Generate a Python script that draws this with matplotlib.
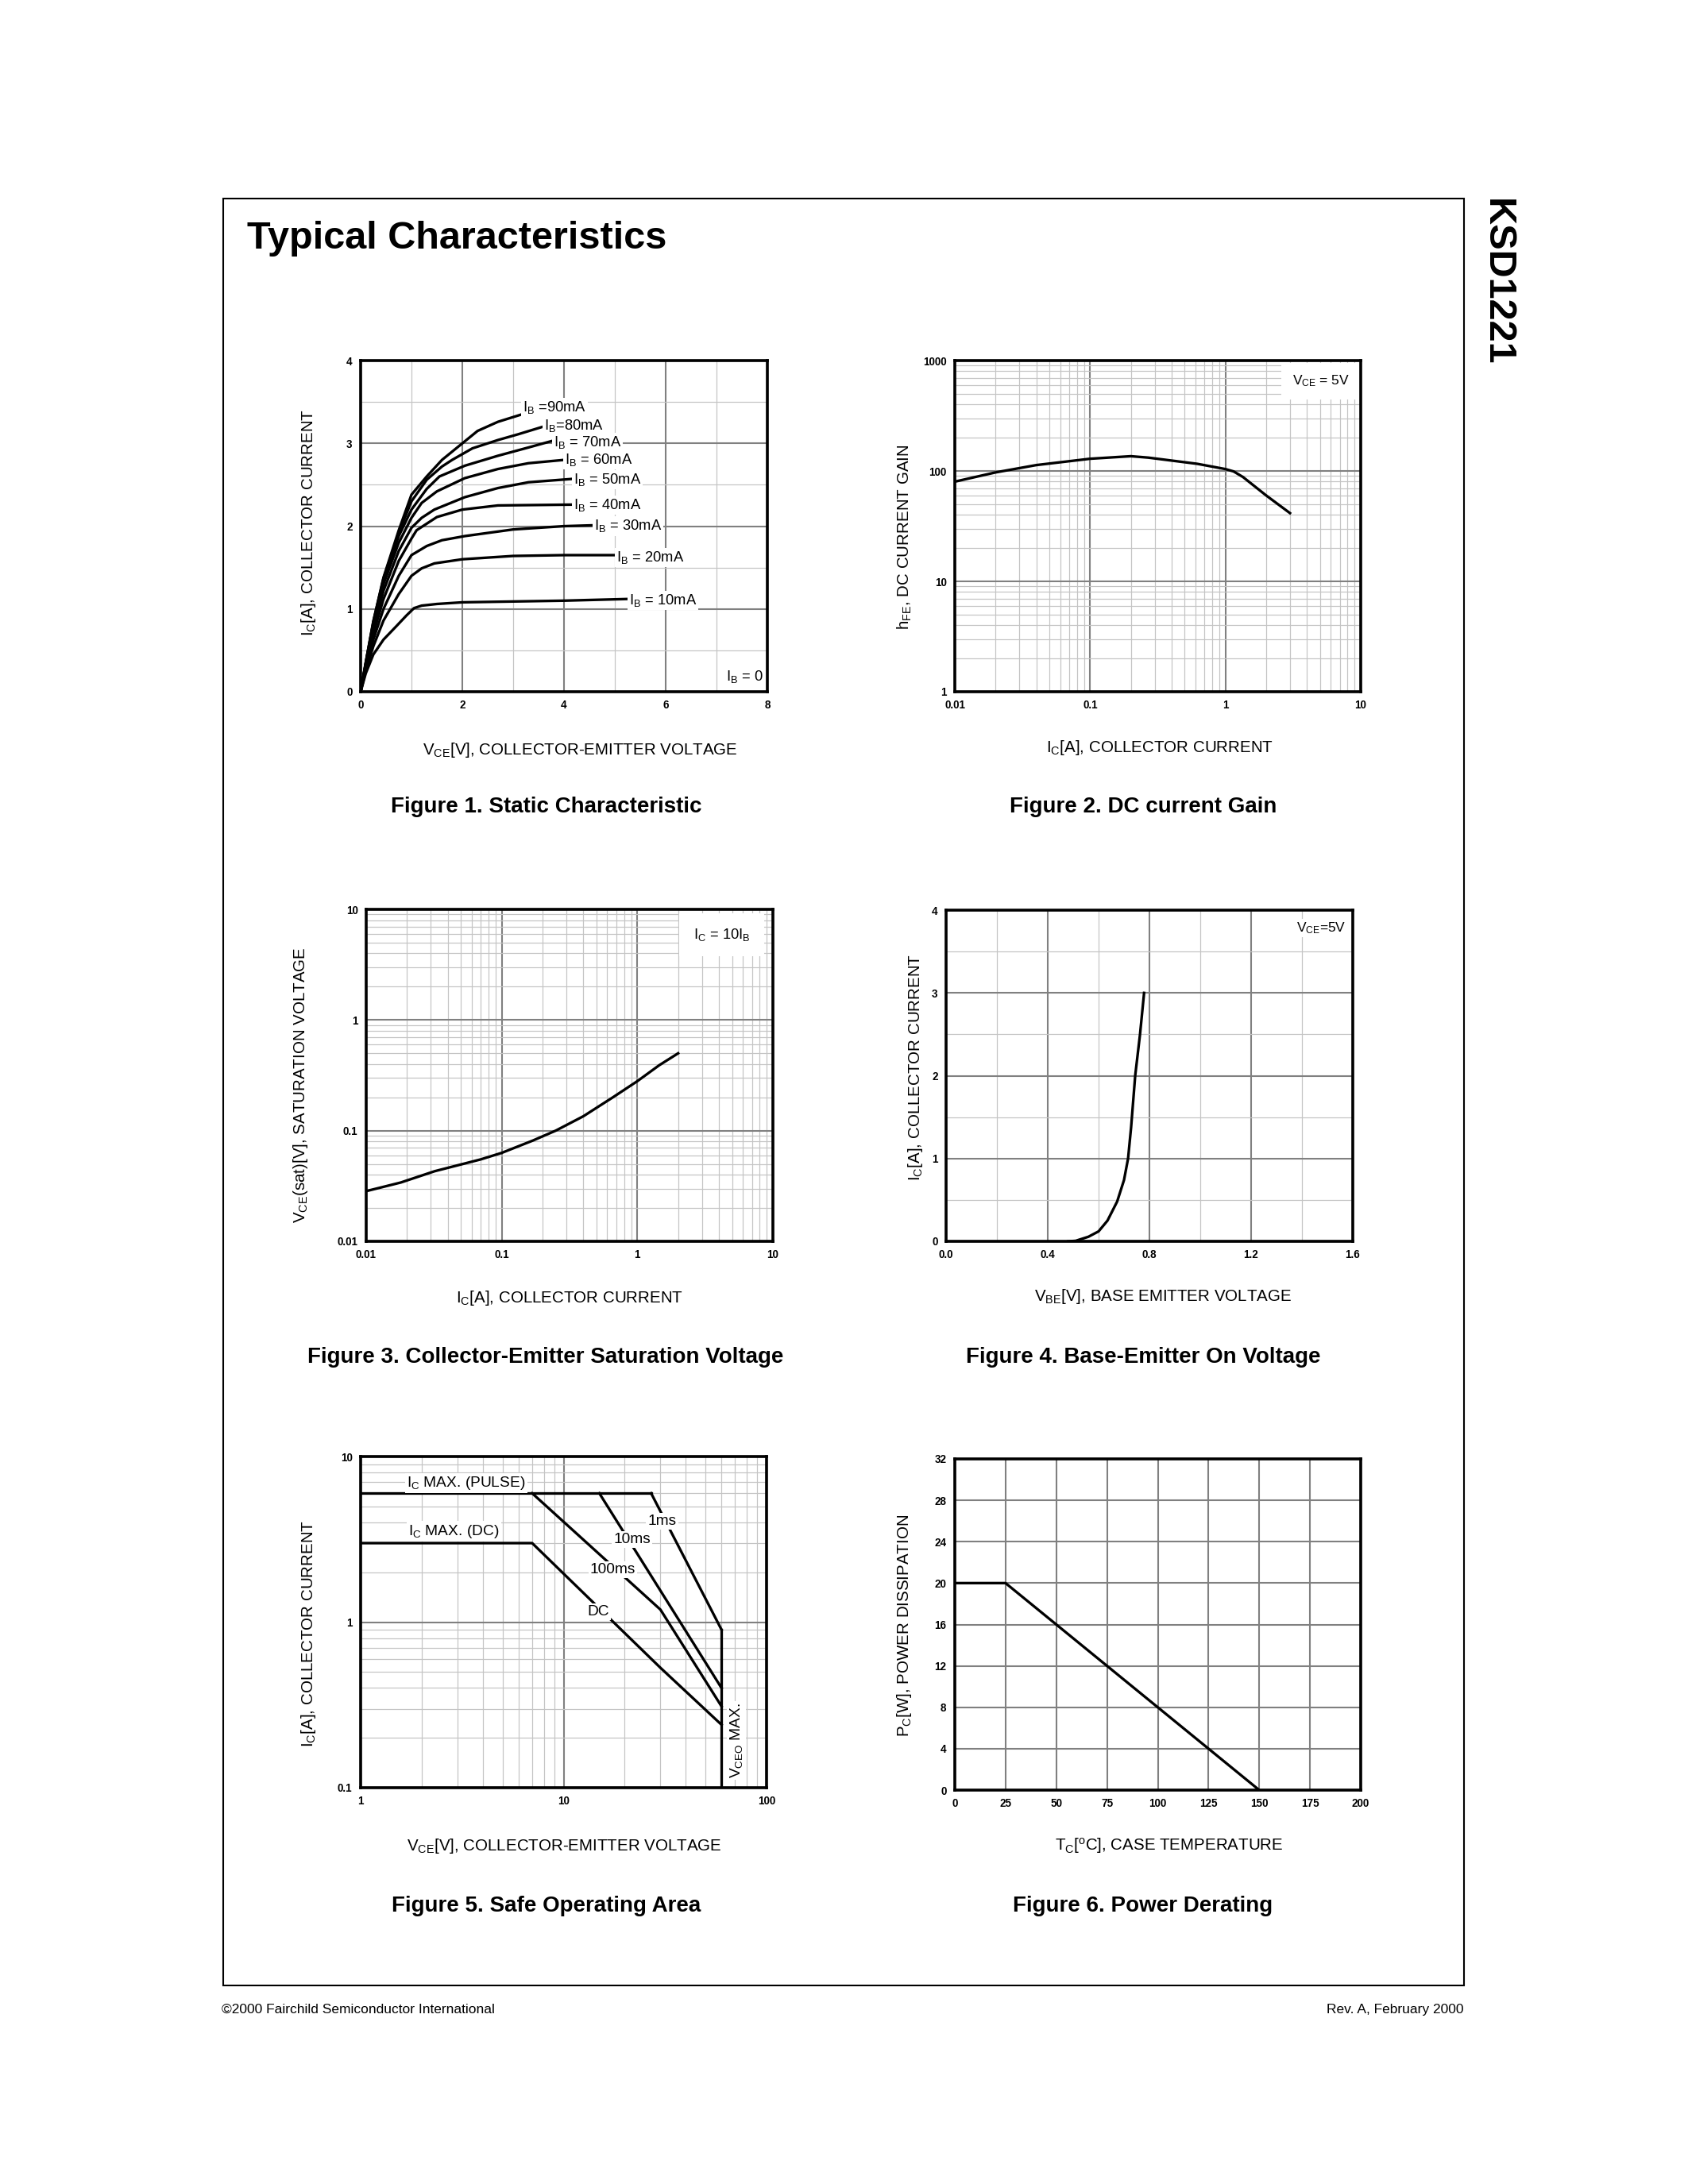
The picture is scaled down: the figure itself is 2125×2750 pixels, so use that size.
"""
KSD1221 typical characteristics page (datasheet figures 1-6)
"""
import numpy as np
import matplotlib
matplotlib.use('Agg')
import matplotlib.pyplot as plt
from matplotlib.ticker import LogLocator, NullFormatter
from matplotlib.patches import Rectangle

# ---- Figure 1: static characteristic (VCE [V] vs IC [A]) per base current
v_90 = [0, 0.1, 0.25, 0.45, 0.75, 1.0, 1.3, 1.6, 2.0, 2.3, 2.7, 3.17]
i_90 = [0, 0.35, 0.85, 1.38, 1.95, 2.38, 2.6, 2.8, 3.0, 3.15, 3.26, 3.35]
v_80 = [0, 0.1, 0.25, 0.45, 0.75, 1.0, 1.3, 1.6, 1.8, 2.2, 2.7, 3.1, 3.58]
i_80 = [0, 0.35, 0.85, 1.37, 1.92, 2.3, 2.56, 2.72, 2.8, 2.94, 3.04, 3.11, 3.2]
v_70 = [0, 0.1, 0.25, 0.45, 0.75, 1.0, 1.3, 1.55, 2.05, 2.7, 3.3, 3.77]
i_70 = [0, 0.34, 0.83, 1.35, 1.88, 2.2, 2.45, 2.6, 2.73, 2.85, 2.95, 3.03]
v_60 = [0, 0.1, 0.25, 0.45, 0.75, 1.0, 1.2, 1.5, 2.05, 2.7, 3.3, 4.0]
i_60 = [0, 0.33, 0.8, 1.3, 1.8, 2.1, 2.28, 2.42, 2.58, 2.69, 2.76, 2.8]
v_50 = [0, 0.1, 0.25, 0.45, 0.75, 1.0, 1.2, 1.45, 2.05, 2.7, 3.3, 4.15]
i_50 = [0, 0.32, 0.76, 1.22, 1.7, 1.98, 2.1, 2.2, 2.35, 2.46, 2.53, 2.57]
v_40 = [0, 0.1, 0.25, 0.45, 0.75, 1.0, 1.1, 1.5, 2.0, 2.7, 4.15]
i_40 = [0, 0.3, 0.7, 1.12, 1.58, 1.85, 1.95, 2.11, 2.2, 2.25, 2.26]
v_30 = [0, 0.1, 0.25, 0.45, 0.75, 1.0, 1.3, 1.6, 2.05, 3.0, 4.0, 4.55]
i_30 = [0, 0.28, 0.63, 1.0, 1.4, 1.65, 1.76, 1.83, 1.88, 1.96, 2.0, 2.01]
v_20 = [0, 0.1, 0.25, 0.45, 0.75, 1.0, 1.2, 1.45, 2.0, 3.0, 4.0, 4.98]
i_20 = [0, 0.25, 0.55, 0.86, 1.18, 1.4, 1.49, 1.55, 1.6, 1.64, 1.65, 1.65]
v_10 = [0, 0.1, 0.25, 0.45, 0.7, 0.9, 1.05, 1.2, 1.5, 2.0, 3.0, 4.0, 5.24]
i_10 = [0, 0.22, 0.45, 0.63, 0.79, 0.92, 1.01, 1.04, 1.06, 1.08, 1.09, 1.1, 1.12]
ib_labels = ['90mA', '80mA', '70mA', '60mA', '50mA', '40mA', '30mA', '20mA', '10mA']
ib_label_x = [3.19, 3.61, 3.8, 4.01, 4.19, 4.19, 4.59, 5.03, 5.28]
ib_label_y = [3.43, 3.21, 3.01, 2.8, 2.56, 2.25, 2.0, 1.62, 1.1]

# ---- Figure 2: DC current gain
ic_gain = [0.01, 0.02, 0.04, 0.1, 0.2, 0.27, 0.62, 1.0, 1.15, 1.35, 2.0, 3.0]
hfe = [80, 97, 113, 129, 136, 132, 116, 104, 99, 88, 60, 41.5]

# ---- Figure 3: collector-emitter saturation voltage
ic_sat = [0.01, 0.018, 0.032, 0.07, 0.1, 0.17, 0.25, 0.4, 0.66, 1.0, 1.45, 2.0]
vce_sat = [0.0284, 0.034, 0.043, 0.055, 0.063, 0.0815, 0.1, 0.135, 0.2, 0.28, 0.39, 0.5]

# ---- Figure 4: base-emitter on voltage
vbe_on = [0.48, 0.51, 0.56, 0.6, 0.635, 0.673, 0.7, 0.716, 0.728, 0.744, 0.763, 0.779]
ic_on = [0, 0.006, 0.055, 0.12, 0.25, 0.48, 0.74, 1.0, 1.38, 2.0, 2.5, 3.0]

# ---- Figure 5: safe operating area
pulse_v, pulse_i = [1, 27], [6, 6]
dc_v, dc_i = [1, 7, 30, 60], [3, 3, 0.53, 0.24]
ms100_v, ms100_i = [7, 30, 60], [6, 1.19, 0.31]
ms10_v, ms10_i = [15, 60], [6, 0.4]
ms1_v, ms1_i = [27, 60], [6, 0.9]
vceo_v, vceo_i = [60, 60], [0.9, 0.1]

# ---- Figure 6: power derating
tc = [0, 25, 150]
pc = [20, 20, 0]

W, H = 2125, 2750
MAJ = '#808080'
MIN = '#c4c4c4'
LW = 0.95
TICK_FS = 3.9
LABEL_FS = 5.9
CAP_FS = 8

plt.rcParams['font.family'] = ['Liberation Sans', 'DejaVu Sans']
plt.rcParams['mathtext.default'] = 'regular'

fig = plt.figure(figsize=(8.5, 11), dpi=250)


def make_axes(x0, y0, x1, y1):
    ax = fig.add_axes([x0 / W, 1 - y1 / H, (x1 - x0) / W, (y1 - y0) / H])
    for s in ax.spines.values():
        s.set_linewidth(1.05)
        s.set_zorder(6)
    ax.tick_params(which='both', length=0, pad=3)
    ax.set_axisbelow(True)
    return ax


def grid(ax):
    ax.grid(which='major', color=MAJ, linewidth=0.6)
    ax.grid(which='minor', color=MIN, linewidth=0.35)


def log_axis(axis, ticks, labels):
    axis.set_ticks(ticks, labels, fontsize=TICK_FS, fontweight='bold')
    axis.set_minor_locator(LogLocator(base=10, subs=np.arange(2, 10)))
    axis.set_minor_formatter(NullFormatter())


def labels(xtxt, xpos, ytxt, ypos):
    fig.text(xpos[0] / W, 1 - xpos[1] / H, xtxt, ha='center', va='center', fontsize=LABEL_FS)
    fig.text(ypos[0] / W, 1 - ypos[1] / H, ytxt, ha='center', va='center',
             fontsize=LABEL_FS, rotation=90)


def caption(txt, x, y):
    fig.text(x / W, 1 - y / H, txt, ha='center', va='center', fontsize=CAP_FS,
             fontweight='bold')


white = dict(facecolor='white', edgecolor='none', pad=0.6)

# Figure 1
ax1 = make_axes(454, 454, 966, 871)
curves = [(v_90, i_90), (v_80, i_80), (v_70, i_70), (v_60, i_60), (v_50, i_50),
          (v_40, i_40), (v_30, i_30), (v_20, i_20), (v_10, i_10)]
for v, i in curves:
    ax1.plot(v, i, color='black', linewidth=LW, zorder=3)
for lab, lx, ly in zip(ib_labels, ib_label_x, ib_label_y):
    sep = ' =' if lab == '90mA' else ('=' if lab == '80mA' else ' = ')
    ax1.text(lx, ly, '$I_B$' + sep + lab, fontsize=5.3, ha='left', va='center',
             bbox=white, zorder=4)
ax1.text(7.92, 0.18, '$I_B$ = 0', fontsize=5.3, ha='right', va='center', bbox=white, zorder=4)
ax1.set_xlim(0, 8)
ax1.set_ylim(0, 4)
ax1.set_xticks([0, 2, 4, 6, 8], ['0', '2', '4', '6', '8'], fontsize=TICK_FS, fontweight='bold')
ax1.set_xticks([1, 3, 5, 7], minor=True)
ax1.set_yticks([0, 1, 2, 3, 4], ['0', '1', '2', '3', '4'], fontsize=TICK_FS, fontweight='bold')
ax1.set_yticks([0.5, 1.5, 2.5, 3.5], minor=True)
grid(ax1)
labels('$V_{CE}$[V], COLLECTOR-EMITTER VOLTAGE', (730, 944),
       '$I_C$[A], COLLECTOR CURRENT', (388, 658))
caption('Figure 1. Static Characteristic', 688, 1016)

# Figure 2
ax2 = make_axes(1202, 454, 1713, 871)
ax2.plot(ic_gain, hfe, color='black', linewidth=LW, zorder=3)
ax2.set_xscale('log')
ax2.set_yscale('log')
ax2.set_xlim(0.01, 10)
ax2.set_ylim(1, 1000)
log_axis(ax2.xaxis, [0.01, 0.1, 1, 10], ['0.01', '0.1', '1', '10'])
log_axis(ax2.yaxis, [1, 10, 100, 1000], ['1', '10', '100', '1000'])
grid(ax2)
ax2.text(0.902, 0.938, '$V_{CE}$ = 5V', transform=ax2.transAxes, fontsize=5.0,
         ha='center', va='center', zorder=4,
         bbox=dict(facecolor='white', edgecolor='none', pad=4))
labels('$I_C$[A], COLLECTOR CURRENT', (1460, 942),
       '$h_{FE}$, DC CURRENT GAIN', (1139, 676))
caption('Figure 2. DC current Gain', 1439, 1016)

# Figure 3
ax3 = make_axes(461, 1145, 973, 1563)
ax3.plot(ic_sat, vce_sat, color='black', linewidth=LW, zorder=3)
ax3.set_xscale('log')
ax3.set_yscale('log')
ax3.set_xlim(0.01, 10)
ax3.set_ylim(0.01, 10)
log_axis(ax3.xaxis, [0.01, 0.1, 1, 10], ['0.01', '0.1', '1', '10'])
log_axis(ax3.yaxis, [0.01, 0.1, 1, 10], ['0.01', '0.1', '1', '10'])
grid(ax3)
ax3.text(0.874, 0.923, '$I_C$ = 10$I_B$', transform=ax3.transAxes, fontsize=5.3,
         ha='center', va='center', zorder=4,
         bbox=dict(facecolor='white', edgecolor='none', pad=5))
labels('$I_C$[A], COLLECTOR CURRENT', (717, 1634),
       '$V_{CE}$(sat)[V], SATURATION VOLTAGE', (379, 1366))
caption('Figure 3. Collector-Emitter Saturation Voltage', 687, 1709)

# Figure 4
ax4 = make_axes(1191, 1146, 1703, 1563)
ax4.plot(vbe_on, ic_on, color='black', linewidth=LW, zorder=3)
ax4.set_xlim(0, 1.6)
ax4.set_ylim(0, 4)
ax4.set_xticks([0, 0.4, 0.8, 1.2, 1.6], ['0.0', '0.4', '0.8', '1.2', '1.6'],
               fontsize=TICK_FS, fontweight='bold')
ax4.set_xticks([0.2, 0.6, 1.0, 1.4], minor=True)
ax4.set_yticks([0, 1, 2, 3, 4], ['0', '1', '2', '3', '4'], fontsize=TICK_FS, fontweight='bold')
ax4.set_yticks([0.5, 1.5, 2.5, 3.5], minor=True)
grid(ax4)
ax4.text(0.923, 0.946, '$V_{CE}$=5V', transform=ax4.transAxes, fontsize=5.0,
         ha='center', va='center', zorder=4, bbox=white)
labels('$V_{BE}$[V], BASE EMITTER VOLTAGE', (1464, 1632),
       '$I_C$[A], COLLECTOR CURRENT', (1152, 1344))
caption('Figure 4. Base-Emitter On Voltage', 1439, 1709)

# Figure 5
ax5 = make_axes(454, 1834, 965, 2251)
for v, i in [(pulse_v, pulse_i), (dc_v, dc_i), (ms100_v, ms100_i),
             (ms10_v, ms10_i), (ms1_v, ms1_i), (vceo_v, vceo_i)]:
    ax5.plot(v, i, color='black', linewidth=LW, zorder=3)
ax5.set_xscale('log')
ax5.set_yscale('log')
ax5.set_xlim(1, 100)
ax5.set_ylim(0.1, 10)
log_axis(ax5.xaxis, [1, 10, 100], ['1', '10', '100'])
log_axis(ax5.yaxis, [0.1, 1, 10], ['0.1', '1', '10'])
grid(ax5)
soa_fs = 5.5
ax5.text(1.69, 6.93, '$I_C$ MAX. (PULSE)', fontsize=soa_fs, ha='left', va='center',
         bbox=white, zorder=4)
ax5.text(1.72, 3.54, '$I_C$ MAX. (DC)', fontsize=soa_fs, ha='left', va='center',
         bbox=white, zorder=4)
ax5.text(30.6, 4.08, '1ms', fontsize=soa_fs, ha='center', va='center', bbox=white, zorder=4)
ax5.text(21.8, 3.16, '10ms', fontsize=soa_fs, ha='center', va='center', bbox=white, zorder=4)
ax5.text(17.5, 2.08, '100ms', fontsize=soa_fs, ha='center', va='center', bbox=white, zorder=4)
ax5.text(14.8, 1.155, 'DC', fontsize=soa_fs, ha='center', va='center', bbox=white, zorder=4)
ax5.text(71, 0.192, '$V_{CEO}$ MAX.', fontsize=soa_fs, ha='center', va='center',
         rotation=90, bbox=white, zorder=4)
labels('$V_{CE}$[V], COLLECTOR-EMITTER VOLTAGE', (710, 2324),
       '$I_C$[A], COLLECTOR CURRENT', (389, 2057))
caption('Figure 5. Safe Operating Area', 688, 2400)

# Figure 6
ax6 = make_axes(1202, 1837, 1713, 2254)
ax6.plot(tc, pc, color='black', linewidth=LW, zorder=3)
ax6.set_xlim(0, 200)
ax6.set_ylim(0, 32)
xt = [0, 25, 50, 75, 100, 125, 150, 175, 200]
yt = [0, 4, 8, 12, 16, 20, 24, 28, 32]
ax6.set_xticks(xt, [str(t) for t in xt], fontsize=TICK_FS, fontweight='bold')
ax6.set_yticks(yt, [str(t) for t in yt], fontsize=TICK_FS, fontweight='bold')
ax6.grid(which='major', color=MAJ, linewidth=0.6)
labels('$T_C[^oC]$, CASE TEMPERATURE', (1472, 2324),
       '$P_C$[W], POWER DISSIPATION', (1139, 2047))
caption('Figure 6. Power Derating', 1439, 2400)

# page frame, heading, side tab and footer
fig.add_artist(Rectangle((281 / W, 1 - 2500 / H), (1843 - 281) / W, (2500 - 250) / H,
                         transform=fig.transFigure, fill=False, linewidth=0.6,
                         edgecolor='black'))
fig.text(311 / W, 1 - 313 / H, 'Typical Characteristics', fontsize=14,
         fontweight='bold', va='baseline')
fig.text(1884 / W, 1 - 250 / H, 'KSD1221', fontsize=14, fontweight='bold',
         rotation=270, ha='center', va='top')
fig.text(279 / W, 1 - 2530 / H, '\u00a92000 Fairchild Semiconductor International',
         fontsize=5.0, va='center')
fig.text(1843 / W, 1 - 2530 / H, 'Rev. A, February 2000', fontsize=5.0,
         va='center', ha='right')

fig.savefig('out.png', dpi=250, facecolor='white')
